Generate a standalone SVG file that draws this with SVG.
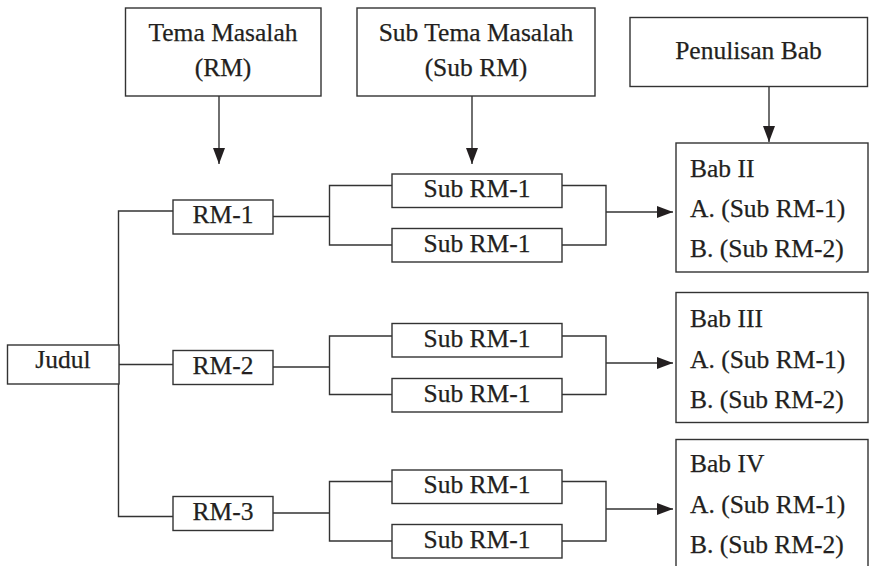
<svg xmlns="http://www.w3.org/2000/svg" width="869" height="566" viewBox="0 0 869 566">
  <style>
    .box { fill: #ffffff; stroke: #333333; stroke-width: 1.4; }
    .wire { fill: none; stroke: #333333; stroke-width: 1.4; }
    .lbl { font-family: "Liberation Serif", "DejaVu Serif", serif; font-size: 25.5px; fill: #231f20; stroke: #231f20; stroke-width: 0.25px; }
    .mid { text-anchor: middle; }
  </style>
  <defs>
    <marker id="arrow" markerUnits="userSpaceOnUse" markerWidth="17" markerHeight="13" refX="16" refY="6" orient="auto">
      <path d="M0,0 L16,6 L0,12 Z" fill="#231f20"/>
    </marker>
  </defs>
  <rect width="869" height="566" fill="#ffffff"/>

  <!-- connectors -->
  <g id="connectors">
    <!-- header arrows -->
    <line class="wire" x1="219" y1="96" x2="219" y2="164" marker-end="url(#arrow)"/>
    <line class="wire" x1="472" y1="96" x2="472" y2="164" marker-end="url(#arrow)"/>
    <line class="wire" x1="769" y1="86" x2="769" y2="142" marker-end="url(#arrow)"/>
    <!-- title spine -->
    <path class="wire" d="M173,211 H118.5 V516.5 H173"/>
    <line class="wire" x1="119" y1="364.5" x2="173" y2="364.5"/>
    <!-- RM to sub RM brackets -->
    <path class="wire" d="M273,216.5 H329.5 M392,185.5 H329.5 V245 H392"/>
    <path class="wire" d="M273,367 H329.5 M392,336 H329.5 V394.5 H392"/>
    <path class="wire" d="M273,513 H329.5 M392,481.5 H329.5 V541 H392"/>
    <!-- sub RM to chapter brackets -->
    <path class="wire" d="M562,185.5 H606 V245 H562"/>
    <path class="wire" d="M562,336 H606 V394.5 H562"/>
    <path class="wire" d="M562,481.5 H606 V541 H562"/>
    <line class="wire" x1="606" y1="212" x2="673" y2="212" marker-end="url(#arrow)"/>
    <line class="wire" x1="606" y1="363" x2="673" y2="363" marker-end="url(#arrow)"/>
    <line class="wire" x1="606" y1="509" x2="673" y2="509" marker-end="url(#arrow)"/>
  </g>

  <!-- header nodes -->
  <g id="tema-masalah">
    <rect class="box" x="125.5" y="8" width="195.5" height="88"/>
    <text class="lbl mid" x="223" y="41">Tema Masalah</text>
    <text class="lbl mid" x="223" y="76">(RM)</text>
  </g>
  <g id="sub-tema-masalah">
    <rect class="box" x="357" y="8" width="238" height="88"/>
    <text class="lbl mid" x="476" y="41">Sub Tema Masalah</text>
    <text class="lbl mid" x="476" y="76">(Sub RM)</text>
  </g>
  <g id="penulisan-bab">
    <rect class="box" x="630" y="17.5" width="237.5" height="69"/>
    <text class="lbl mid" x="748.5" y="59">Penulisan Bab</text>
  </g>

  <!-- title -->
  <g id="judul">
    <rect class="box" x="7.5" y="345" width="111.5" height="39"/>
    <text class="lbl mid" x="63" y="368">Judul</text>
  </g>

  <!-- RM nodes -->
  <g id="rm-1">
    <rect class="box" x="173" y="200" width="100" height="34"/>
    <text class="lbl mid" x="223" y="223">RM-1</text>
  </g>
  <g id="rm-2">
    <rect class="box" x="173" y="350.5" width="100" height="34"/>
    <text class="lbl mid" x="223" y="373.5">RM-2</text>
  </g>
  <g id="rm-3">
    <rect class="box" x="173" y="496.5" width="100" height="34"/>
    <text class="lbl mid" x="223" y="519.5">RM-3</text>
  </g>

  <!-- sub RM nodes -->
  <g id="sub-rm-1a">
    <rect class="box" x="392" y="174" width="170" height="33.5"/>
    <text class="lbl mid" x="477" y="197">Sub RM-1</text>
  </g>
  <g id="sub-rm-1b">
    <rect class="box" x="392" y="228.5" width="170" height="33.5"/>
    <text class="lbl mid" x="477" y="251.5">Sub RM-1</text>
  </g>
  <g id="sub-rm-2a">
    <rect class="box" x="392" y="323.5" width="170" height="33.5"/>
    <text class="lbl mid" x="477" y="346.5">Sub RM-1</text>
  </g>
  <g id="sub-rm-2b">
    <rect class="box" x="392" y="378.5" width="170" height="33.5"/>
    <text class="lbl mid" x="477" y="401.5">Sub RM-1</text>
  </g>
  <g id="sub-rm-3a">
    <rect class="box" x="392" y="470" width="170" height="33.5"/>
    <text class="lbl mid" x="477" y="493">Sub RM-1</text>
  </g>
  <g id="sub-rm-3b">
    <rect class="box" x="392" y="524.5" width="170" height="33.5"/>
    <text class="lbl mid" x="477" y="547.5">Sub RM-1</text>
  </g>

  <!-- chapter nodes -->
  <g id="bab-2">
    <rect class="box" x="676" y="143" width="192" height="129"/>
    <text class="lbl" x="690" y="177">Bab II</text>
    <text class="lbl" x="690" y="217">A. (Sub RM-1)</text>
    <text class="lbl" x="690" y="257">B. (Sub RM-2)</text>
  </g>
  <g id="bab-3">
    <rect class="box" x="676" y="292.5" width="192" height="130"/>
    <text class="lbl" x="690" y="326.5">Bab III</text>
    <text class="lbl" x="690" y="368">A. (Sub RM-1)</text>
    <text class="lbl" x="690" y="408">B. (Sub RM-2)</text>
  </g>
  <g id="bab-4">
    <rect class="box" x="676" y="439.5" width="192" height="140"/>
    <text class="lbl" x="690" y="472">Bab IV</text>
    <text class="lbl" x="690" y="512.5">A. (Sub RM-1)</text>
    <text class="lbl" x="690" y="552.5">B. (Sub RM-2)</text>
  </g>
</svg>
